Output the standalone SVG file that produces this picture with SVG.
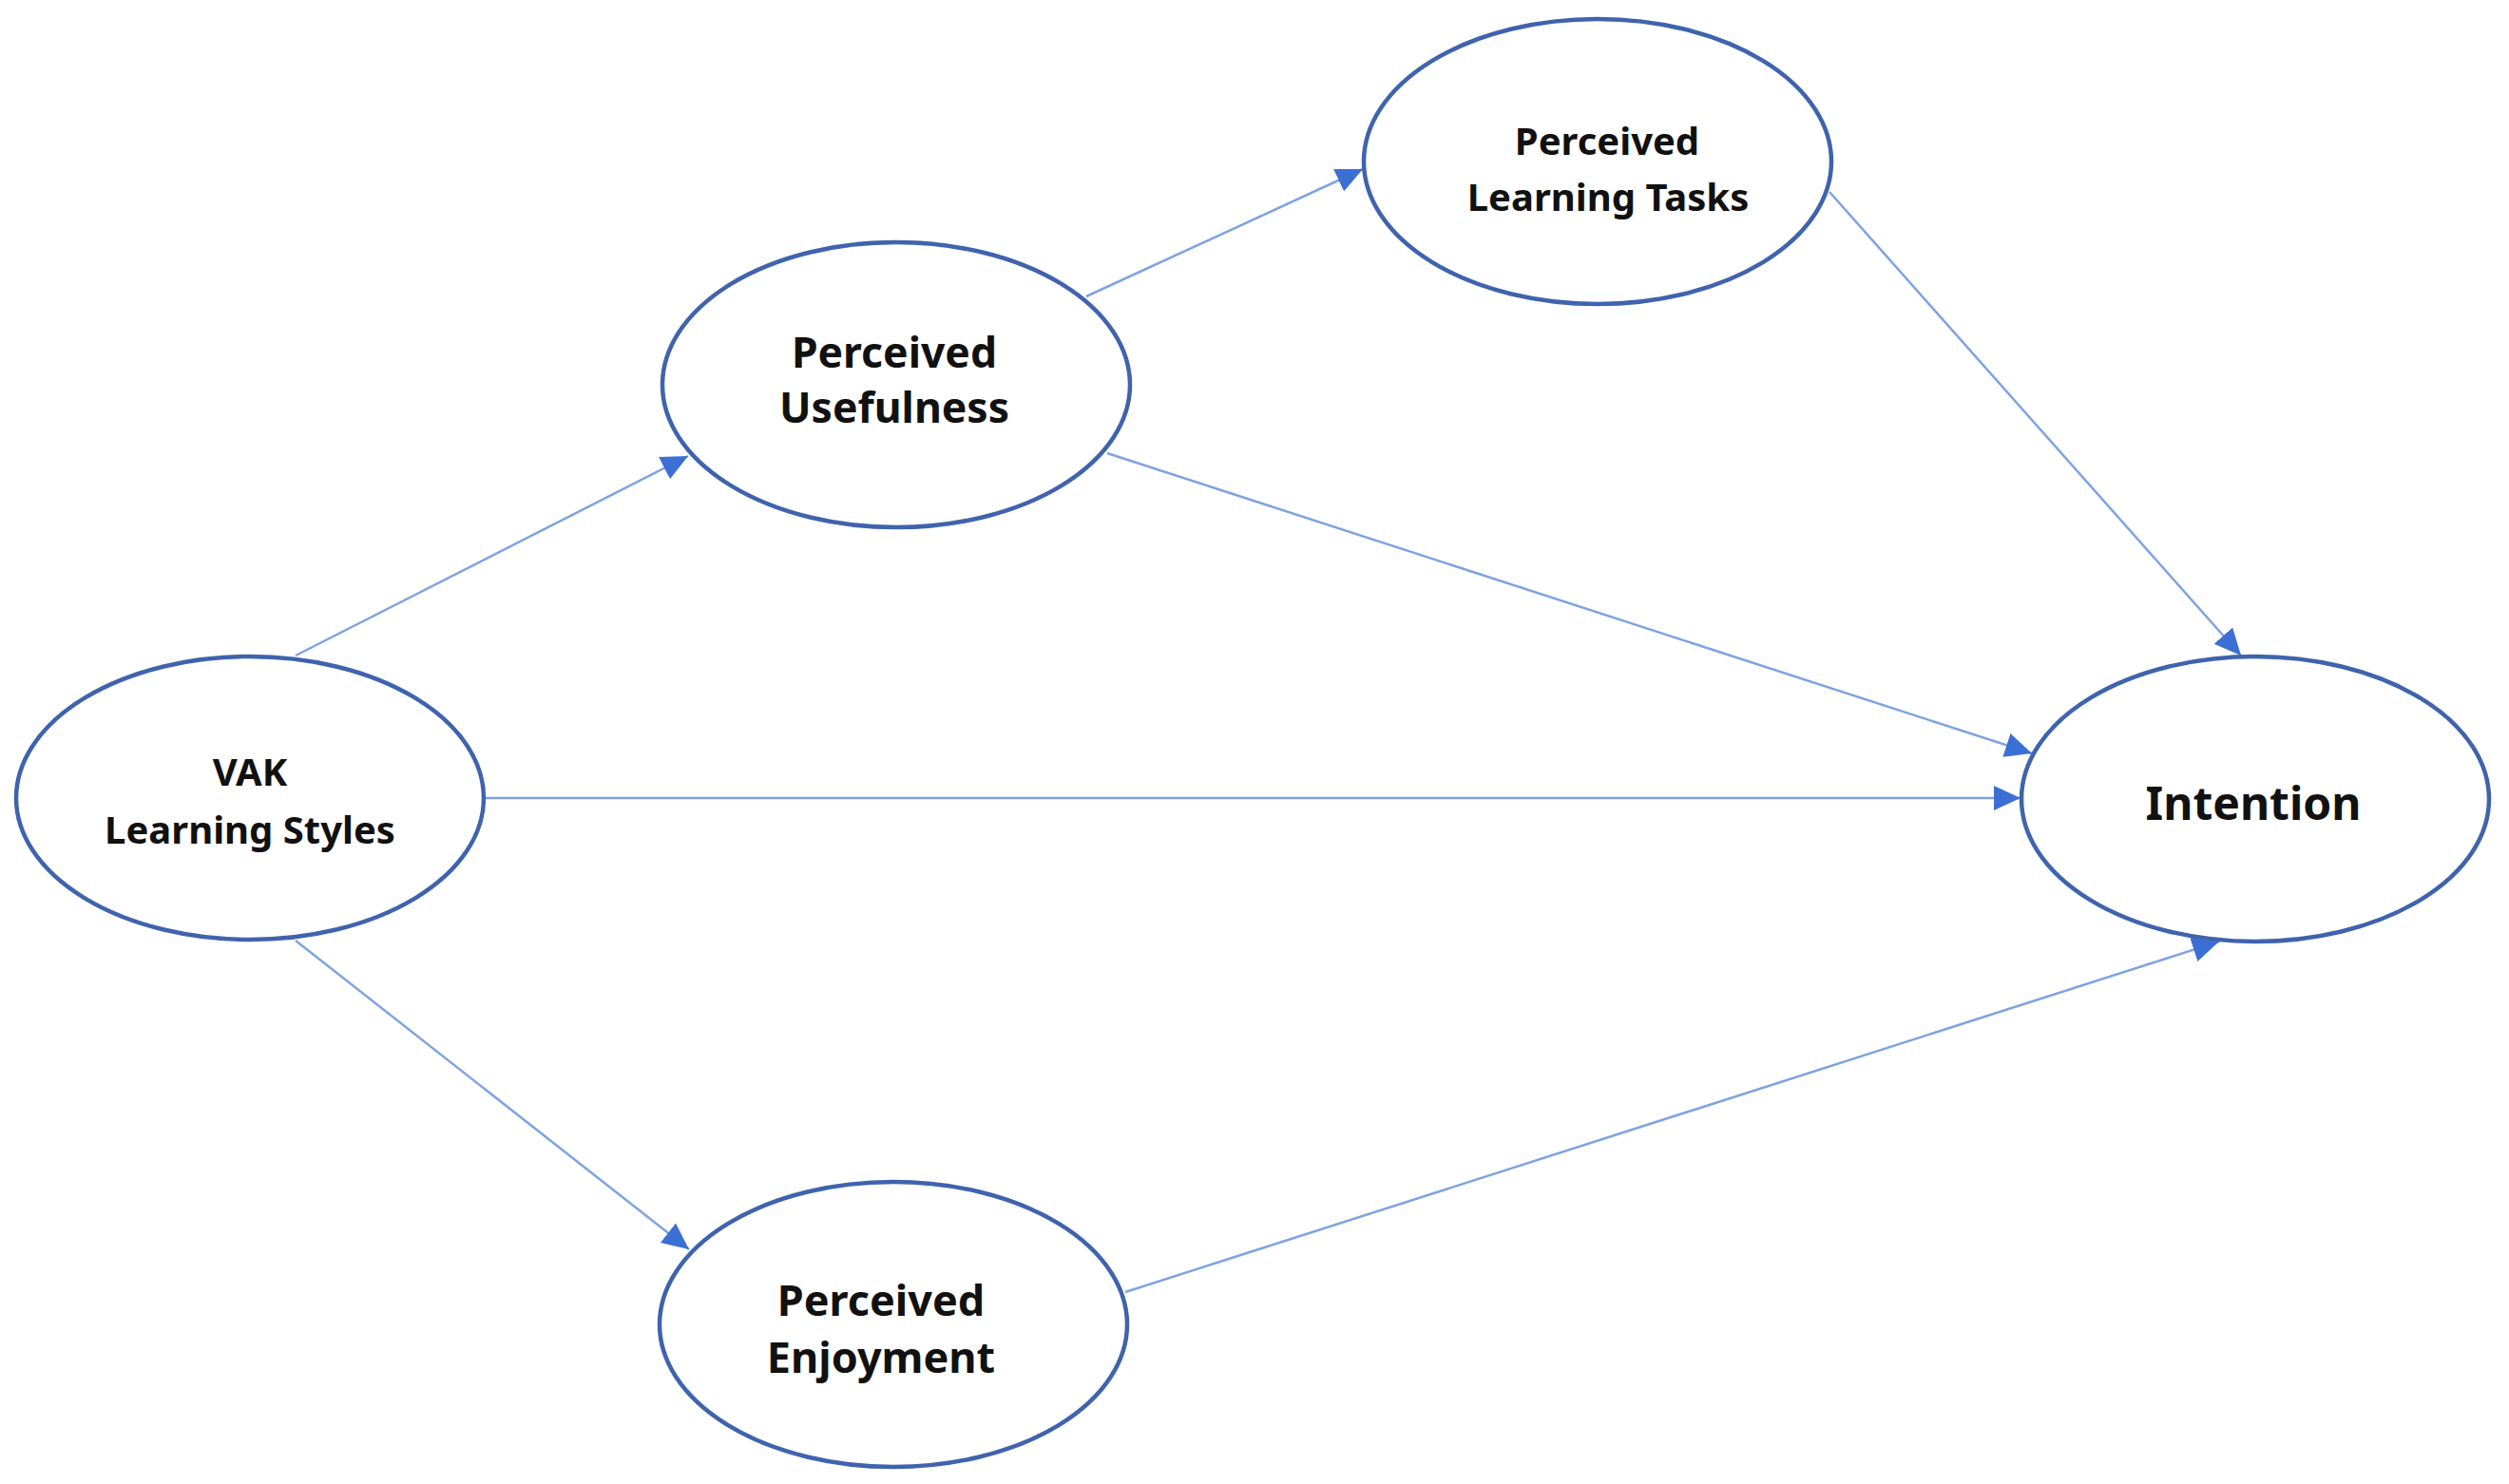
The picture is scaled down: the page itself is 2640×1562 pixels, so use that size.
<svg xmlns="http://www.w3.org/2000/svg" width="2640" height="1562" viewBox="0 0 2640 1562">
<defs>
<marker id="arr" markerUnits="userSpaceOnUse" markerWidth="30" markerHeight="28" refX="28" refY="13" orient="auto">
<path d="M0,0 L28,13 L0,26 z" fill="#3b6fd4"/>
</marker>
<style>
.node ellipse{fill:#ffffff;stroke:#3f63ad;stroke-width:4.5}
.node text{font-family:"Noto Sans","Liberation Sans",sans-serif;font-weight:bold;fill:#111111;text-anchor:middle}
#connectors line{stroke:#7ea3e0;stroke-width:2.5;marker-end:url(#arr)}
</style>
</defs>
<rect width="2640" height="1562" fill="#ffffff"/>
<g id="connectors">
<line x1="311" y1="690" x2="724" y2="480"/>
<line x1="1143" y1="312" x2="1434" y2="178"/>
<line x1="1165" y1="477" x2="2138" y2="793"/>
<line x1="1925" y1="202" x2="2358" y2="690"/>
<line x1="509" y1="840" x2="2126" y2="840"/>
<line x1="311" y1="990" x2="725" y2="1315"/>
<line x1="1184" y1="1360" x2="2335" y2="991"/>
</g>
<g id="vak" class="node">
<ellipse cx="263" cy="840" rx="246" ry="149"/>
<text x="263" y="827" font-size="40">VAK</text>
<text x="263" y="888" font-size="40">Learning Styles</text>
</g>
<g id="usefulness" class="node">
<ellipse cx="943" cy="405" rx="246" ry="150"/>
<text x="941" y="387" font-size="44.5">Perceived</text>
<text x="941" y="445" font-size="44.5">Usefulness</text>
</g>
<g id="tasks" class="node">
<ellipse cx="1681" cy="170" rx="246" ry="150"/>
<text x="1691" y="163" font-size="40">Perceived</text>
<text x="1692" y="222" font-size="40">Learning Tasks</text>
</g>
<g id="intention" class="node">
<ellipse cx="2373" cy="841" rx="246" ry="150"/>
<text x="2371" y="863" font-size="48">Intention</text>
</g>
<g id="enjoyment" class="node">
<ellipse cx="940" cy="1394" rx="246" ry="150"/>
<text x="927" y="1385" font-size="45">Perceived</text>
<text x="927" y="1445" font-size="45">Enjoyment</text>
</g>
</svg>
